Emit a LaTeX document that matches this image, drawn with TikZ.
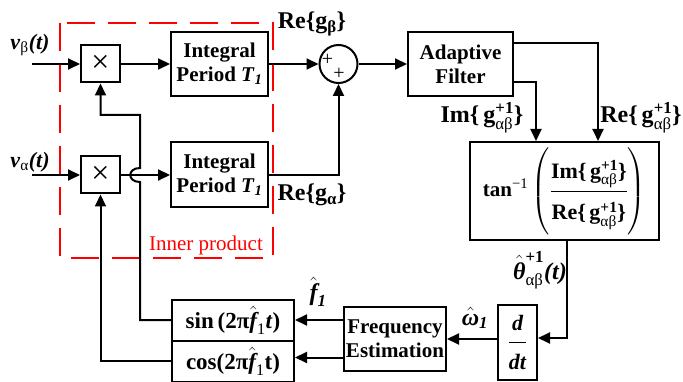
\documentclass[tikz,border=0pt]{standalone}
\usepackage{amsmath}
\usepackage{fontspec}
\setmainfont{Liberation Serif}
\usetikzlibrary{arrows.meta}
\newcommand{\gmath}{\text{\bfseries g}^{\text{\bfseries +1}}_{\text{\normalfont αβ}}}
\begin{document}
\begin{tikzpicture}[x=1pt,y=-1pt,line width=2pt,
  font=\fontsize{21}{24}\selectfont\bfseries,
  box/.style={draw,rectangle,inner sep=0pt,align=center},
  arr/.style={-{Triangle[length=12pt,width=11pt]}},
  lbl/.style={inner sep=0pt,font=\fontsize{24}{26}\selectfont\bfseries}]
\useasboundingbox (0,0) rectangle (683,382);
% inner product frame
\draw[red,dash pattern=on 28pt off 13pt] (60,23) rectangle (273,258);
\node[red,font=\fontsize{21}{24}\selectfont] (ip) at (206,245) {Inner product};
% blocks
\node[box,minimum width=39pt,minimum height=37pt] (mb) at (100.5,64) {\fontsize{32}{32}\selectfont\mdseries ×};
\node[box,minimum width=39pt,minimum height=37pt] (ma) at (100.5,175) {\fontsize{32}{32}\selectfont\mdseries ×};
\node[box,minimum width=97pt,minimum height=64pt] (ib) at (219.5,64) {Integral\\Period \textit{T}$_{\text{\itshape 1}}$};
\node[box,minimum width=97pt,minimum height=65pt] (ia) at (219.5,175) {Integral\\Period \textit{T}$_{\text{\itshape 1}}$};
\node[draw,circle,minimum size=38pt,inner sep=0pt] (sum) at (338.5,64) {};
\node[font=\fontsize{20}{20}\selectfont\mdseries,inner sep=0pt] (p1) at (327.5,60) {+};
\node[font=\fontsize{20}{20}\selectfont\mdseries,inner sep=0pt] (p2) at (339,74) {+};
\node[box,minimum width=105pt,minimum height=64pt] (af) at (460.5,64) {Adaptive\\Filter};
\node[box,minimum width=189pt,minimum height=98pt] (tan) at (564.5,191)
  {tan$^{\text{\normalfont −1}}$\,{\fontsize{22}{24}\selectfont$\left(\vphantom{\rule[-38pt]{0pt}{80pt}}\dfrac{\text{Im\{}\,\gmath\text{\}}\rule[-8pt]{0pt}{0pt}}{\rule{0pt}{26pt}\text{Re\{}\,\gmath\text{\}}}\right)$}};
\node[box,minimum width=122pt,minimum height=41pt,font=\fontsize{23}{24}\selectfont\bfseries] (sin) at (233,320) {sin\,(2π$\hat{\text{\itshape f}}_{\text{\normalfont 1}}$\textit{t})};
\node[box,minimum width=122pt,minimum height=41pt,font=\fontsize{23}{24}\selectfont\bfseries] (cos) at (233,361) {cos(2π$\hat{\text{\itshape f}}_{\text{\normalfont 1}}$t)};
\node[box,minimum width=102pt,minimum height=64pt] (fe) at (395,339) {Frequency\\Estimation};
\node[box,minimum width=39pt,minimum height=75pt,font=\fontsize{22}{24}\selectfont\bfseries] (dd) at (517.5,342.5) {$\dfrac{\text{\itshape d}\rule[-9pt]{0pt}{0pt}}{\rule{0pt}{25pt}\text{\itshape dt}}$};
% labels
\node[lbl,font=\fontsize{22}{24}\selectfont\bfseries] (vb) at (30,45) {\textit{v}$_{\text{\normalfont β}}$\textit{(t)}};
\node[lbl,font=\fontsize{22}{24}\selectfont\bfseries] (va) at (30,162) {\textit{v}$_{\text{\normalfont α}}$\textit{(t)}};
\node[lbl] (reb) at (312,24) {Re\{g$_{\text{β}}$\}};
\node[lbl] (rea) at (312,195) {Re\{g$_{\text{α}}$\}};
\node[lbl] (imo) at (482,118) {Im\{\,$\gmath$\}};
\node[lbl] (reo) at (641,118) {Re\{\,$\gmath$\}};
\node[lbl] (th) at (540,270) {$\hat{\text{\itshape θ}}^{\text{+1}}_{\text{\normalfont αβ}}$\textit{(t)}};
\node[lbl] (om) at (475,318) {$\hat{\text{\itshape ω}}_{\text{\itshape 1}}$};
\node[lbl] (fl) at (318,292) {$\hat{\text{\itshape f}}_{\text{\itshape 1}}$};
% connectors
\coordinate (vbin) at (32,64);
\coordinate (vain) at (32,175);
\coordinate (hb) at (140,182);
\coordinate (ht) at (140,168);
\coordinate (kn) at (140,115);
\draw[arr] (vbin) -- (mb.west);
\draw[arr] (vain) -- (ma.west);
\draw[arr] (mb.east) -- (ib.west);
\draw[arr] (ma.east) -- (ia.west);
\draw[arr] (ib.east) -- (sum.west);
\draw[arr] (ia.east) -| (sum.south);
\draw[arr] (sum.east) -- (af.west);
\draw[arr] ([yshift=21pt]af.east) -| ([xshift=33.5pt]tan.north);
\draw[arr] ([yshift=-18pt]af.east) -| ([xshift=-28.5pt]tan.north);
\draw[arr] ([xshift=2.5pt]tan.south) |- ([yshift=4.5pt]dd.east);
\draw[arr] (dd.west |- fe.east) -- (fe.east);
\draw[arr] (fe.west |- sin.east) -- (sin.east);
\draw[arr] ([yshift=3.5pt]fe.west |- cos.east) -- ([yshift=3.5pt]cos.east);
\draw[arr] (sin.west) -| (hb) .. controls (127,182) and (127,168) .. (ht) -- (kn) -| (mb.south);
\draw[arr] (cos.west) -| (ma.south);
\end{tikzpicture}
\end{document}
